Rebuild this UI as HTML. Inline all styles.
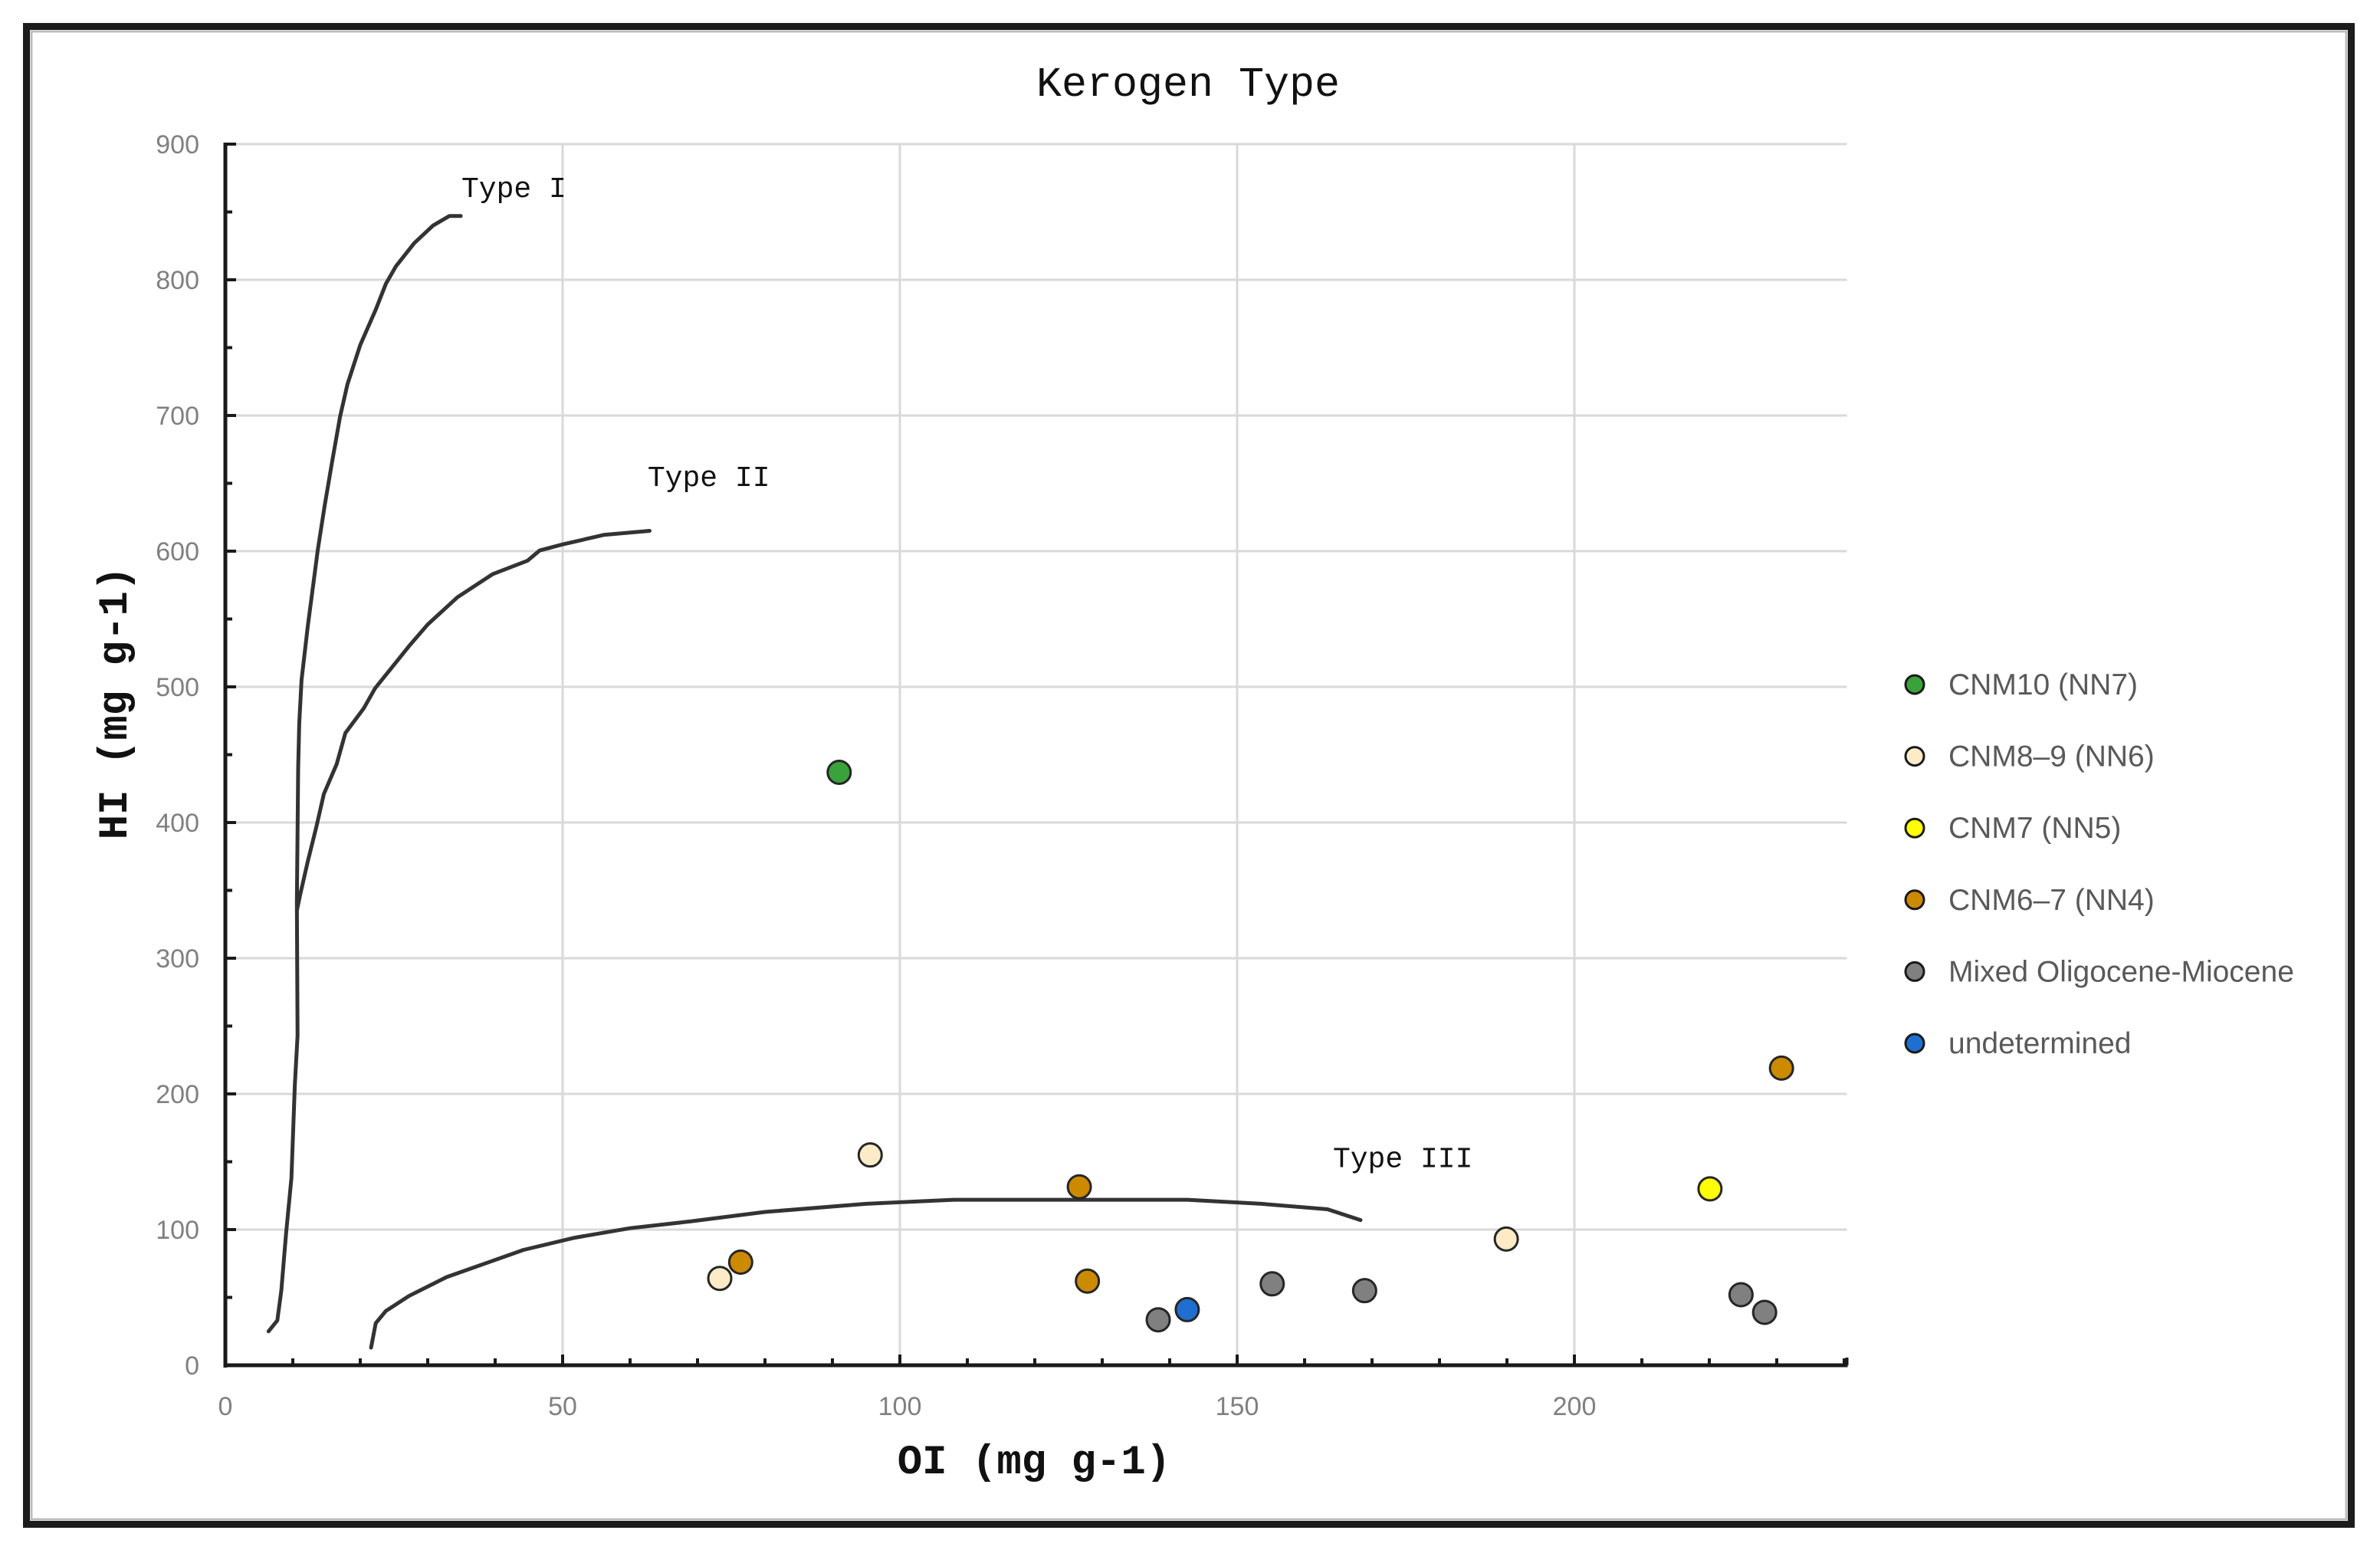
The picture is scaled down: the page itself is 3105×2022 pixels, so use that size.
<!DOCTYPE html>
<html><head><meta charset="utf-8">
<style>
html,body{margin:0;padding:0;background:#fff;}
svg{display:block;}
.mono{font-family:"Liberation Mono",monospace;fill:#111;}
.tick{font-family:"Liberation Sans",sans-serif;fill:#808080;font-size:34px;}
.leg{font-family:"Liberation Sans",sans-serif;fill:#595959;font-size:39px;}
</style></head>
<body>
<svg id="chart" width="3105" height="2022" viewBox="0 0 3105 2022" xmlns="http://www.w3.org/2000/svg">
  <rect x="0" y="0" width="3105" height="2022" fill="#fff"/>
  <rect x="34.5" y="34.5" width="3033" height="1954" fill="none" stroke="#1c1c1c" stroke-width="9"/>
  <rect x="41" y="41" width="3020" height="1941" fill="none" stroke="#bdbdbd" stroke-width="3"/>
  <text x="1550" y="125" text-anchor="middle" class="mono" font-size="55">Kerogen Type</text>
  <g id="grid"></g>
  <g id="axes"></g>
  <g id="curves"></g>
  <g id="points"></g>
  <g id="legend"></g>
  <text x="1349" y="1922" text-anchor="middle" class="mono" font-size="54" font-weight="bold">OI (mg g-1)</text>
  <text x="0" y="0" transform="translate(165,917) rotate(-90)" text-anchor="middle" class="mono" font-size="54" font-weight="bold">HI (mg g-1)</text>
</svg>
<script>
const NS='http://www.w3.org/2000/svg';
const xTicks=[0,50,100,150,200];
const yTicks=[0,100,200,300,400,500,600,700,800,900];
const xMax=240.4, yMax=900;
const typeI=[[6.4,25],[7.7,33],[8.3,55],[9.0,97],[9.8,138],[10.3,206],[10.7,243],[10.6,341],[10.8,440],[10.95,473],[11.3,505],[12.2,544],[13.2,582],[13.7,601],[14.7,633],[15.8,665],[17.0,699],[18.1,723],[20.0,752],[22.3,778],[23.8,797],[25.3,810],[28.0,827],[30.8,840],[33.2,847],[34.9,847]];
const typeII=[[10.6,335],[11.1,347],[12.2,371],[13.5,397],[14.6,421],[16.5,443],[17.8,466],[20.5,484],[22.2,499],[27.4,531],[30.0,546],[34.4,566],[39.6,583],[44.8,593],[46.6,600.5],[50.0,605],[56.1,612],[62.9,615]];
const typeIII=[[21.6,13],[22.3,31],[23.8,40],[27.2,51],[32.8,65],[44.2,85],[51.8,94],[60,101],[68.9,106],[80,113],[95,119],[108,122],[142.6,122],[153.6,119],[163.4,115],[168.3,107]];
const curveNames=['type-i-curve','type-ii-curve','type-iii-curve'];
const curveLabels=['Type I','Type II','Type III'];
const labelPos=[[35,861],[62.6,648],[164.2,146]];
const seriesNames=['CNM10 (NN7)','CNM8–9 (NN6)','CNM7 (NN5)','CNM6–7 (NN4)','Mixed Oligocene-Miocene','undetermined'];
const seriesColors=['#3aa23a','#fdebc8','#ffff00','#cc8a00','#808080','#1f6fd0'];
const s0x=[91.0], s0y=[437];
const s1x=[95.6,73.3,189.9], s1y=[155,64,93];
const s2x=[220.1], s2y=[130];
const s3x=[126.6,76.4,127.8,230.7], s3y=[131.5,76,62,219];
const s4x=[138.3,155.2,168.9,224.7,228.2], s4y=[33.5,60,55,52,39];
const s5x=[142.6], s5y=[41];
const seriesX=[s0x,s1x,s2x,s3x,s4x,s5x];
const seriesY=[s0y,s1y,s2y,s3y,s4y,s5y];

const X0=294, PXX=8.8, Y0=1781, PXY=1.77;
const sx=v=>X0+v*PXX, sy=v=>Y0-v*PXY;
function mk(tag,attrs,parent){const e=document.createElementNS(NS,tag);for(const k in attrs)e.setAttribute(k,attrs[k]);parent.appendChild(e);return e;}
const grid=document.getElementById('grid'), axes=document.getElementById('axes');
yTicks.forEach(v=>{ if(v===0) return;
  const l=mk('line',{x1:sx(0),x2:sx(xMax),y1:sy(v),y2:sy(v),stroke:'#d9d9d9','stroke-width':3},grid);
  
  
});
xTicks.forEach(v=>{ if(v===0) return;
  const l=mk('line',{x1:sx(v),x2:sx(v),y1:sy(0),y2:sy(yMax),stroke:'#d9d9d9','stroke-width':3},grid);
  
  
});
const ya=mk('line',{x1:sx(0),x2:sx(0),y1:sy(yMax)-2,y2:sy(0)+3,stroke:'#1a1a1a','stroke-width':5},axes);


const xa=mk('line',{x1:sx(0)-2,x2:sx(xMax)+1,y1:sy(0),y2:sy(0),stroke:'#1a1a1a','stroke-width':5},axes);


for(let v=0;v<=yMax;v+=50){
  const t=mk('line',{x1:sx(0),x2:sx(0)+(v%100===0?14:9),y1:sy(v),y2:sy(v),stroke:'#1a1a1a','stroke-width':4},axes);
  
  
}
for(let v=10;v<=xMax;v+=10){
  const t=mk('line',{x1:sx(v),x2:sx(v),y1:sy(0),y2:sy(0)-(v%50===0?14:9),stroke:'#1a1a1a','stroke-width':4},axes);
  
  
}
{const t=mk('line',{x1:sx(xMax),x2:sx(xMax),y1:sy(0),y2:sy(0)-10,stroke:'#1a1a1a','stroke-width':4},axes);

}
yTicks.forEach(v=>{
  const t=mk('text',{x:260,y:sy(v)+12,'text-anchor':'end',class:'tick'},axes);
  t.textContent=v;
  
  
});
xTicks.forEach(v=>{
  const t=mk('text',{x:sx(v),y:1846,'text-anchor':'middle',class:'tick'},axes);
  t.textContent=v;
  
  
});
const curves=document.getElementById('curves');
[typeI,typeII,typeIII].forEach((c,i)=>{
  const d=c.map((p,j)=>(j?'L':'M')+sx(p[0]).toFixed(1)+' '+sy(p[1]).toFixed(1)).join(' ');
  const p=mk('path',{d:d,fill:'none',stroke:'#333','stroke-width':5,'stroke-linejoin':'round','stroke-linecap':'round'},curves);
  
  
  const t=mk('text',{x:sx(labelPos[i][0]),y:sy(labelPos[i][1]),class:'mono','font-size':38},curves);
  t.textContent=curveLabels[i];
  
  
});
const pts=document.getElementById('points');
seriesX.forEach((xs,si)=>{
  xs.forEach((xv,k)=>{
    const c=mk('circle',{cx:sx(xv),cy:sy(seriesY[si][k]),r:15,fill:seriesColors[si],stroke:'#262626','stroke-width':3},pts);
    
    
  });
});
const leg=document.getElementById('legend');
seriesNames.forEach((n,i)=>{
  const y=893+i*93.6;
  const g=mk('g',{},leg);
  
  
  mk('circle',{cx:2498,cy:y,r:12,fill:seriesColors[i],stroke:'#1a1a1a','stroke-width':3},g);
  const t=mk('text',{x:2542,y:y+13,class:'leg'},g);
  t.textContent=n;
});
</script>
</body></html>
